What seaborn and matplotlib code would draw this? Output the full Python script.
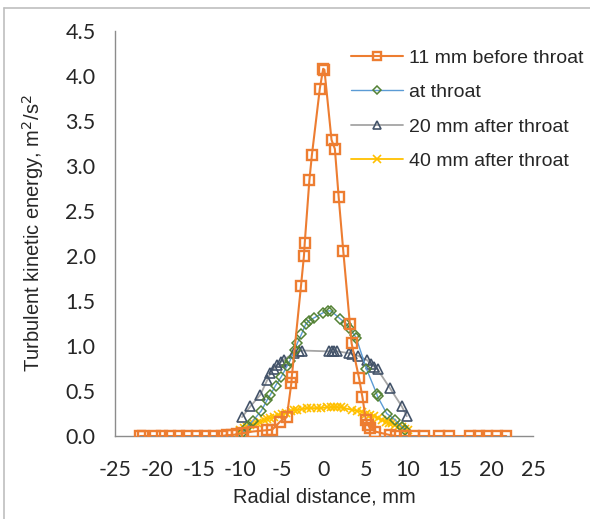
import matplotlib
matplotlib.use("Agg")
import matplotlib.pyplot as plt
import seaborn as sns
import pandas as pd
from matplotlib.ticker import MultipleLocator, FormatStrFormatter
from matplotlib.lines import Line2D

# ---- data ----
before_x = [-22.0, -21.6, -20.2, -19.4, -18.4, -17.4, -16.4, -15.2, -14.2, -13.2, -12.2,
            -11.6, -11.0, -10.4, -9.8, -8.5, -6.8, -6.2, -5.25, -4.45, -3.9, -3.85,
            -2.75, -2.4, -2.3, -1.75, -1.45, -0.5, -0.1, 0.05, 0.9, 1.3, 1.75, 2.3,
            3.1, 3.3, 4.2, 4.6, 5.0, 5.3, 5.5, 6.1, 7.9, 8.6, 9.7, 10.8, 12.0, 13.8,
            15.0, 17.5, 18.6, 19.5, 20.7, 21.8]
before_k = [0, 0, 0, 0, 0, 0, 0, 0, 0, 0, 0,
            0.01, 0.01, 0.02, 0.03, 0.05, 0.065, 0.07, 0.16, 0.21, 0.59, 0.66,
            1.67, 2.0, 2.15, 2.84, 3.12, 3.86, 4.08, 4.07, 3.29, 3.19, 2.66, 2.06,
            1.24, 1.03, 0.64, 0.43, 0.18, 0.12, 0.085, 0.05, 0.01, 0, 0, 0, 0, 0,
            0, 0, 0, 0, 0, 0]

throat_x = [-9.8, -9.2, -8.5, -7.5, -6.8, -6.4, -5.8, -5.1, -4.4, -4.1, -3.5, -3.2,
            -2.7, -2.2, -1.8, -1.24, -0.1, 0.5, 0.84, 1.96, 2.65, 3.05, 3.65, 3.86,
            5.06, 6.3, 6.4, 7.5, 8.5, 9.3, 9.7]
throat_k = [0.03, 0.10, 0.17, 0.28, 0.40, 0.46, 0.56, 0.66, 0.78, 0.83, 0.96, 1.03,
            1.13, 1.24, 1.28, 1.31, 1.37, 1.39, 1.39, 1.30, 1.25, 1.20, 1.12, 1.09,
            0.75, 0.47, 0.44, 0.25, 0.18, 0.10, 0.07]

after20_x = [-9.8, -8.8, -7.6, -6.8, -6.4, -6.0, -5.6, -5.2, -4.8, -3.6, -3.0, -2.6,
             0.6, 0.9, 1.2, 1.6, 3.05, 3.4, 4.1, 5.2, 5.6, 6.0, 6.4, 7.9, 9.3, 9.9]
after20_k = [0.21, 0.33, 0.46, 0.62, 0.70, 0.75, 0.79, 0.82, 0.85, 0.92, 0.94, 0.95,
             0.94, 0.94, 0.94, 0.94, 0.92, 0.91, 0.89, 0.84, 0.80, 0.77, 0.74, 0.53, 0.33, 0.22]

after40_x = [-10.2, -10.0, -9.6, -9.2, -8.8, -8.4, -8.0, -7.6, -7.2, -6.8, -6.4, -6.0,
             -5.5, -5.0, -4.5, -4.0, -3.6, -3.2, -2.6, -2.0, -1.5, -0.8, -0.4, 0.4,
             0.8, 1.2, 1.6, 2.0, 2.4, 3.4, 4.0, 4.5, 5.0, 5.5, 6.0, 6.5, 6.9, 7.4,
             7.8, 8.1, 8.5, 9.0, 9.3, 9.7, 10.1]
after40_k = [0.05, 0.07, 0.09, 0.10, 0.12, 0.13, 0.14, 0.16, 0.18, 0.19, 0.20, 0.21,
             0.23, 0.25, 0.26, 0.28, 0.29, 0.29, 0.30, 0.31, 0.31, 0.31, 0.31, 0.32,
             0.32, 0.32, 0.32, 0.32, 0.31, 0.29, 0.28, 0.27, 0.25, 0.23, 0.22, 0.20, 0.18, 0.16,
             0.15, 0.14, 0.12, 0.11, 0.10, 0.08, 0.07]

labels = ["11 mm before throat", "at throat", "20 mm after throat", "40 mm after throat"]
x_ticks = [-25, -20, -15, -10, -5, 0, 5, 10, 15, 20, 25]
y_ticks = [0.0, 0.5, 1.0, 1.5, 2.0, 2.5, 3.0, 3.5, 4.0, 4.5]

sns.set_theme(style="white")
plt.rcParams['font.family'] = ['Liberation Sans', 'DejaVu Sans']

fig = plt.figure(figsize=(5.9, 5.19), dpi=100)
ax = fig.add_axes([115/590, 1-436/519, (533-115)/590, (436-31)/519])

series = [
    (before_x, before_k, dict(color="#ED7D31", marker="s", ms=7.5, mec="#ED7D31", mfc="none", mew=1.7, lw=1.5)),
    (throat_x, throat_k, dict(color="#5B9BD5", marker="D", ms=5, mec="#548235", mfc="none", mew=1.1, lw=1.0)),
    (after20_x, after20_k, dict(color="#A5A5A5", marker="^", ms=7.5, mec="#44546A", mfc="none", mew=1.2, lw=1.3)),
    (after40_x, after40_k, dict(color="#FFC000", marker="x", ms=6, mec="#FFC000", mfc="none", mew=1.2, lw=1.3)),
]
draw_order = [3, 2, 1, 0]
for i in draw_order:
    xs, ks, st = series[i]
    df = pd.DataFrame({"x": xs, "k": ks})
    sns.lineplot(data=df, x="x", y="k", ax=ax, sort=False, estimator=None,
                 color=st["color"], marker=st["marker"], markersize=st["ms"],
                 markeredgecolor=st["mec"], markerfacecolor=st["mfc"],
                 markeredgewidth=st["mew"], linewidth=st["lw"], legend=False, zorder=3 + (3 - i))

ax.set_xlim(-25, 25)
ax.set_ylim(0, 4.5)
ax.set_xticks(x_ticks)
ax.set_yticks(y_ticks)
ax.xaxis.set_minor_locator(MultipleLocator(1))
ax.yaxis.set_minor_locator(MultipleLocator(0.1))
ax.yaxis.set_major_formatter(FormatStrFormatter('%.1f'))
ax.set_xticklabels([str(v) for v in x_ticks], fontsize=15.5, family=['Lato', 'DejaVu Sans'])
ax.set_yticklabels([f"{v:.1f}" for v in y_ticks], fontsize=15.5, family=['Lato', 'DejaVu Sans'])

for s in ["top", "right"]:
    ax.spines[s].set_visible(False)
for s in ["left", "bottom"]:
    ax.spines[s].set_color("#8C8C8C")
    ax.spines[s].set_linewidth(1.0)
ax.tick_params(axis="both", which="major", direction="out", length=6, width=1.0, color="#8C8C8C", pad=8)
ax.tick_params(axis="both", which="minor", direction="out", length=3.5, width=0.8, color="#8C8C8C")
ax.tick_params(axis="x", which="major", pad=11)
ax.set_facecolor("white")

ax.set_xlabel("Radial distance, mm", fontsize=14.5, labelpad=6)
ax.set_ylabel("Turbulent kinetic energy, m$^2$/s$^2$", fontsize=14.5, labelpad=14)

handles = []
for i in range(4):
    xs, ks, st = series[i]
    handles.append(Line2D([], [], color=st["color"], marker=st["marker"], markersize=st["ms"] * 0.85,
                          markeredgecolor=st["mec"], markerfacecolor=st["mfc"],
                          markeredgewidth=st["mew"], linewidth=st["lw"]))
leg = ax.legend(handles, labels, loc="upper left", bbox_to_anchor=(0.545, 0.975), frameon=False,
                fontsize=14, handlelength=2.7, handletextpad=0.3, labelspacing=0.87, borderaxespad=0)

# figure border (left and top)
fig.add_artist(Line2D([4/590, 4/590], [0, 1-8/519], transform=fig.transFigure, color="#BFBFBF", lw=1.2))
fig.add_artist(Line2D([4/590, 1], [1-8/519, 1-8/519], transform=fig.transFigure, color="#BFBFBF", lw=1.2))

fig.savefig("out.png", dpi=100, facecolor="white")
